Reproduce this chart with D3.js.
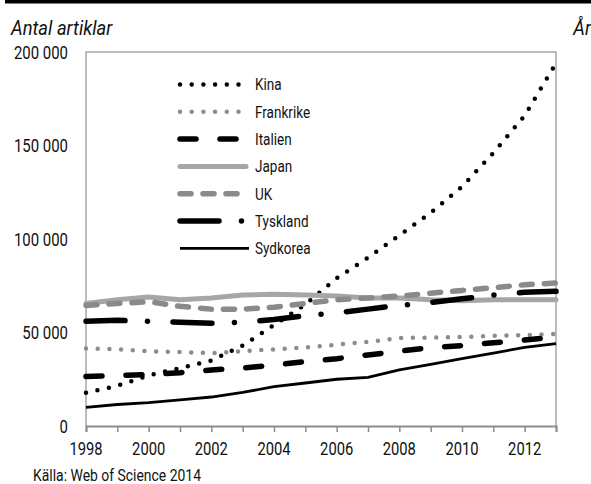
<!DOCTYPE html>
<html>
<head>
<meta charset="utf-8">
<script src="https://cdn.jsdelivr.net/npm/d3@7"></script>
<style>
  body { margin: 0; background: #fff; }
  svg { display: block; }
  text { font-family: Roboto, "Liberation Sans", sans-serif; fill: #111; }
</style>
</head>
<body>
<svg id="chart" width="591" height="484"></svg>
<script>
const years = d3.range(1998, 2014);
const yTicks = [0, 50000, 100000, 150000, 200000];
const xTicks = [1998, 2000, 2002, 2004, 2006, 2008, 2010, 2012];

const kina      = [17800, 21500, 27000, 31000, 35000, 43000, 54000, 65000, 79000, 90000, 102000, 114000, 128000, 146000, 166000, 194000];
const frankrike = [41500, 41000, 40000, 39500, 39000, 40000, 41000, 42000, 43500, 45000, 47000, 47300, 47600, 48200, 48600, 49200];
const italien   = [26500, 27000, 27500, 28500, 30000, 31000, 32500, 34500, 36000, 38000, 40000, 42000, 43000, 44500, 46000, 47500];
const japan     = [65500, 67500, 69000, 67500, 68500, 70000, 70500, 70000, 69500, 68500, 68500, 67500, 67000, 67500, 67500, 67500];
const uk        = [64500, 65500, 66500, 64000, 62500, 62500, 63500, 65500, 67500, 68500, 69500, 71000, 72500, 74000, 75500, 76500];
const tyskland  = [56000, 56500, 56000, 55500, 55000, 55500, 57000, 59000, 60500, 62500, 64500, 66000, 68000, 70000, 71500, 72000];
const sydkorea  = [10000, 11500, 12500, 14000, 15500, 18000, 21000, 23000, 25000, 26000, 30000, 33000, 36000, 39000, 42000, 44000];

const seriesNames = ["Kina", "Frankrike", "Italien", "Japan", "UK", "Tyskland", "Sydkorea"];
const seriesValues = [kina, frankrike, italien, japan, uk, tyskland, sydkorea];
const styles = [
  { color: "#000", width: 4.5, dash: "0 11.7", cap: "round" },
  { color: "#8c8c8c", width: 4.5, dash: "0 11.7", cap: "round" },
  { color: "#000", width: 5.5, dash: "16 24", cap: "round" },
  { color: "#a6a6a6", width: 5, dash: null, cap: "round" },
  { color: "#8a8a8a", width: 5.5, dash: "11 12", cap: "round" },
  { color: "#000", width: 5.5, dash: "39 22.5 0 25.5", cap: "round" },
  { color: "#000", width: 2.8, dash: null, cap: "butt" }
];

const svg = d3.select("#chart");
const W = 591, H = 484;
const m = { left: 86, right: 35, top: 52, bottom: 58 };
const x = d3.scaleLinear().domain([1998, 2013]).range([m.left, W - m.right]);
const y = d3.scaleLinear().domain([0, 200000]).range([H - m.bottom, m.top]);

function label(parent, px, py, str, size, anchor, sx, italic) {
  const g = parent.append("g").attr("transform", `translate(${px},${py}) scale(${sx},1)`);
  const t = g.append("text").attr("x", 0).attr("y", 0)
    .attr("font-size", size).attr("text-anchor", anchor || "start").text(str);
  if (italic) t.attr("font-style", "italic");
  return t;
}

// top black band (cut-off header)
svg.append("rect").attr("x", 5).attr("y", 0).attr("width", W - 5).attr("height", 3.5).attr("fill", "#000");

// frame
svg.append("path")
  .attr("d", `M${x(1998)},${y(0)}V${y(200000)}H${x(2013)}V${y(0)}`)
  .attr("fill", "none").attr("stroke", "#a6a6a6").attr("stroke-width", 1.5);

// x axis
const xAxis = d3.axisBottom(x).tickValues(years).tickSize(6).tickFormat("");
const gx = svg.append("g").attr("transform", `translate(0,${y(0)})`).call(xAxis);
gx.select(".domain").attr("stroke", "#8c8c8c").attr("stroke-width", 2);
gx.selectAll(".tick line").attr("stroke", "#8c8c8c").attr("stroke-width", 1.5);
const xl = svg.append("g");
xTicks.forEach(d => label(xl, x(d), 455, d, 18, "middle", 0.82));

// y axis labels
const fmt = d => d === 0 ? "0" : d3.format(",")(d).replace(/,/g, " ");
const yl = svg.append("g");
yTicks.forEach(d => label(yl, 68, y(d) + 6.5, fmt(d), 18, "end", 0.83));

// lines
const line = d3.line().x((d, i) => x(years[i])).y(d => y(d));
seriesValues.forEach((vals, k) => {
  const s = styles[k];
  svg.append("path").datum(vals)
    .attr("d", line).attr("fill", "none")
    .attr("stroke", s.color).attr("stroke-width", s.width)
    .attr("stroke-linecap", s.cap).attr("stroke-linejoin", "round")
    .attr("stroke-dasharray", s.dash);
});

// legend
const lg = svg.append("g");
seriesNames.forEach((name, k) => {
  const s = styles[k];
  const ly = 84.5 + k * 27.3;
  lg.append("line").attr("x1", 180).attr("x2", k === 6 ? 249 : 246).attr("y1", ly).attr("y2", ly)
    .attr("stroke", s.color).attr("stroke-width", s.width)
    .attr("stroke-linecap", s.cap).attr("stroke-dasharray", s.dash);
  label(lg, 255, ly + 5.8, name, 16.5, "start", 0.82);
});

// titles
label(svg, 11, 35, "Antal artiklar", 20, "start", 0.92, true);
label(svg, 591, 35, "År", 20, "end", 0.92, true);
label(svg, 33, 481, "Källa: Web of Science 2014", 17, "start", 0.82);
</script>
</body>
</html>
